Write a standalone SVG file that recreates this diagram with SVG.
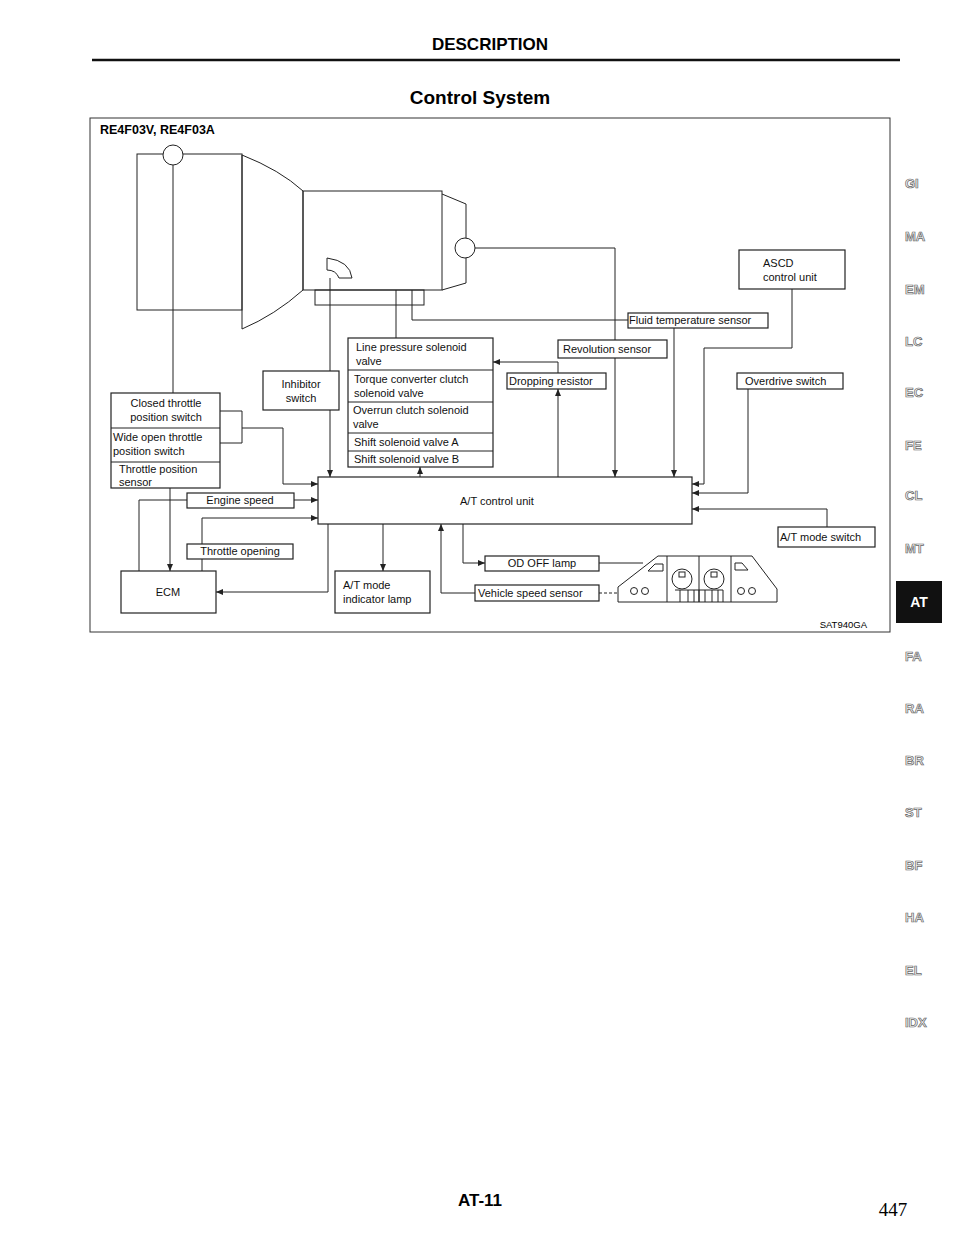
<svg xmlns="http://www.w3.org/2000/svg" width="960" height="1242" viewBox="0 0 960 1242">
<style>
.b{fill:#fff;stroke:#222;stroke-width:1.2}
.l{fill:none;stroke:#222;stroke-width:1}
.t{font-family:"Liberation Sans",Arial,sans-serif;font-size:11px;fill:#111}
.tab{font-family:"Liberation Sans",Arial,sans-serif;font-size:13px;fill:#f4f4f4;stroke:#666;stroke-width:0.7;font-weight:bold}
</style>
<defs><marker id="a" markerWidth="7" markerHeight="6" refX="7" refY="3" orient="auto" markerUnits="userSpaceOnUse"><path d="M0,0 L7,3 L0,6 Z" fill="#222"/></marker></defs>
<rect width="960" height="1242" fill="#fff"/>
<text x="490" y="50" text-anchor="middle" font-family="Liberation Sans,Arial,sans-serif" font-size="17" font-weight="bold">DESCRIPTION</text>
<line x1="92" y1="60" x2="900" y2="60" stroke="#111" stroke-width="2.5"/>
<text x="480" y="104" text-anchor="middle" font-family="Liberation Sans,Arial,sans-serif" font-size="19" font-weight="bold">Control System</text>
<rect x="90" y="118" width="800" height="514" fill="none" stroke="#333" stroke-width="1"/>
<text x="100" y="134" font-family="Liberation Sans,Arial,sans-serif" font-size="12.5" font-weight="bold">RE4F03V, RE4F03A</text>
<g id="transmission" class="l">
<rect x="137" y="154" width="105" height="156"/>
<path d="M242,155 Q280,170 303,191 L303,290 Q275,315 242,329 Z"/>
<rect x="303" y="191" width="139" height="99"/>
<path d="M442,194 L466,204 L466,283 L442,290"/>
<rect x="315" y="290" width="109" height="15"/>
<circle cx="173" cy="155" r="10" fill="#fff"/>
<circle cx="465" cy="248" r="10" fill="#fff"/>
<path d="M327,258 Q350,261 352,278 L339,278 Q336,270 327,270 Z"/>
</g>
<g id="connectors" class="l">
<path d="M173,165 V393"/>
<path d="M475,248 H615 V340"/>
<path d="M412,290 V320 H628"/>
<path d="M396,290 V338"/>
<path d="M330,278 V371"/><path d="M330,410 V477" marker-end="url(#a)"/>
<path d="M558,373 V362 H493" marker-end="url(#a)"/>
<path d="M558,477 V389" marker-end="url(#a)"/>
<path d="M615,358 V477" marker-end="url(#a)"/>
<path d="M674,328 V477" marker-end="url(#a)"/>
<path d="M792,289 V348 H704 V484 H692" marker-end="url(#a)"/>
<path d="M748,389 V493 H692" marker-end="url(#a)"/>
<path d="M827,527 V509 H692" marker-end="url(#a)"/>
<path d="M420,477 V467" marker-end="url(#a)"/>
<path d="M463,524 V563 H485" marker-end="url(#a)"/>
<path d="M475,593 H441 V524" marker-end="url(#a)"/>
<path d="M599,563 H643"/>
<path d="M599,593 H618" stroke-dasharray="3,2"/>
<path d="M383,524 V571" marker-end="url(#a)"/>
<path d="M328,524 V592 H216" marker-end="url(#a)"/>
<path d="M220,411 H242 V443 H220"/>
<path d="M242,428 H283 V484 H318" marker-end="url(#a)"/>
<path d="M139,571 V500 H187"/>
<path d="M294,500 H318" marker-end="url(#a)"/>
<path d="M202,571 V559"/>
<path d="M202,544 V518 H318" marker-end="url(#a)"/>
<path d="M170,488 V571" marker-end="url(#a)"/>
</g>
<g id="solenoids">
<rect class="b" x="348" y="338" width="145" height="129"/>
<path class="l" d="M348,370 H493 M348,402 H493 M348,433 H493 M348,451 H493"/>
<text class="t" x="356" y="351">Line pressure solenoid</text><text class="t" x="356" y="365">valve</text>
<text class="t" x="354" y="383">Torque converter clutch</text><text class="t" x="354" y="397">solenoid valve</text>
<text class="t" x="353" y="414">Overrun clutch solenoid</text><text class="t" x="353" y="428">valve</text>
<text class="t" x="354" y="446">Shift solenoid valve A</text>
<text class="t" x="354" y="463">Shift solenoid valve B</text>
</g>
<g id="inhibitor"><rect class="b" x="263" y="371" width="76" height="39"/><text class="t" x="301" y="388" text-anchor="middle">Inhibitor</text><text class="t" x="301" y="402" text-anchor="middle">switch</text></g>
<g id="throttle">
<rect class="b" x="111" y="393" width="109" height="95"/>
<path class="l" d="M111,428 H220 M111,462 H220"/>
<text class="t" x="166" y="407" text-anchor="middle">Closed throttle</text><text class="t" x="166" y="421" text-anchor="middle">position switch</text>
<text class="t" x="113" y="441">Wide open throttle</text><text class="t" x="113" y="455">position switch</text>
<text class="t" x="119" y="473">Throttle position</text><text class="t" x="119" y="486">sensor</text>
</g>
<g id="engspeed"><rect class="b" x="187" y="493" width="107" height="15"/><text class="t" x="240" y="504" text-anchor="middle">Engine speed</text></g>
<g id="throttleopen"><rect class="b" x="187" y="544" width="106" height="15"/><text class="t" x="240" y="555" text-anchor="middle">Throttle opening</text></g>
<g id="ecm"><rect class="b" x="121" y="571" width="95" height="42"/><text class="t" x="168" y="596" text-anchor="middle">ECM</text></g>
<g id="atcu"><rect class="b" x="318" y="477" width="374" height="47"/><text class="t" x="460" y="505">A/T control unit</text></g>
<g id="atlamp"><rect class="b" x="335" y="571" width="95" height="42"/><text class="t" x="343" y="589">A/T mode</text><text class="t" x="343" y="603">indicator lamp</text></g>
<g id="dropping"><rect class="b" x="507" y="373" width="99" height="16"/><text class="t" x="509" y="385">Dropping resistor</text></g>
<g id="revsensor"><rect class="b" x="558" y="340" width="109" height="18"/><text class="t" x="563" y="353">Revolution sensor</text></g>
<g id="fluid"><rect class="b" x="628" y="313" width="140" height="15"/><text class="t" x="629" y="324">Fluid temperature sensor</text></g>
<g id="ascd"><rect class="b" x="739" y="250" width="106" height="39"/><text class="t" x="763" y="267">ASCD</text><text class="t" x="763" y="281">control unit</text></g>
<g id="overdrive"><rect class="b" x="737" y="373" width="106" height="16"/><text class="t" x="745" y="385">Overdrive switch</text></g>
<g id="atmode"><rect class="b" x="778" y="527" width="97" height="20"/><text class="t" x="780" y="541">A/T mode switch</text></g>
<g id="odoff"><rect class="b" x="485" y="556" width="114" height="15"/><text class="t" x="542" y="567" text-anchor="middle">OD OFF lamp</text></g>
<g id="vss"><rect class="b" x="475" y="585" width="124" height="16"/><text class="t" x="478" y="597">Vehicle speed sensor</text></g>
<g id="cluster" class="l">
<path d="M618,602 L618,587 L658,556 L752,556 L777,589 L777,602 Z"/>
<path d="M667,556 V602 M699,556 V602 M731,556 V602"/>
<path d="M648,571 L655,564 H663 V571 Z M735,563 H742 L748,570 H735 Z"/>
<circle cx="682" cy="579" r="10"/><circle cx="714" cy="579" r="10"/>
<rect x="679" y="572" width="6" height="5"/><rect x="711" y="572" width="6" height="5"/>
<path d="M675,590 H699 V602 M680,590 V602 M688,590 V602 M694,590 V602 M699,590 H723 M705,590 V602 M712,590 V602 M718,590 V602 M723,590 V602"/>
<circle cx="634" cy="591" r="3.5"/><circle cx="645" cy="591" r="3.5"/><circle cx="741" cy="591" r="3.5"/><circle cx="752" cy="591" r="3.5"/>
</g>
<text x="867" y="628" text-anchor="end" font-family="Liberation Sans,Arial,sans-serif" font-size="9.5">SAT940GA</text>
<g id="tabs">
<text class="tab" x="905" y="188">GI</text><text class="tab" x="905" y="241">MA</text><text class="tab" x="905" y="294">EM</text><text class="tab" x="905" y="346">LC</text><text class="tab" x="905" y="397">EC</text><text class="tab" x="905" y="450">FE</text><text class="tab" x="905" y="500">CL</text><text class="tab" x="905" y="553">MT</text>
<rect x="896" y="581" width="46" height="42" fill="#111"/><text x="919" y="607" text-anchor="middle" font-family="Liberation Sans,Arial,sans-serif" font-size="14" font-weight="bold" fill="#fff">AT</text>
<text class="tab" x="905" y="661">FA</text><text class="tab" x="905" y="713">RA</text><text class="tab" x="905" y="765">BR</text><text class="tab" x="905" y="817">ST</text><text class="tab" x="905" y="870">BF</text><text class="tab" x="905" y="922">HA</text><text class="tab" x="905" y="975">EL</text><text class="tab" x="905" y="1027">IDX</text>
</g>
<text x="480" y="1206" text-anchor="middle" font-family="Liberation Sans,Arial,sans-serif" font-size="17" font-weight="bold">AT-11</text>
<text x="893" y="1216" text-anchor="middle" font-family="Liberation Serif,serif" font-size="19">447</text>
</svg>
